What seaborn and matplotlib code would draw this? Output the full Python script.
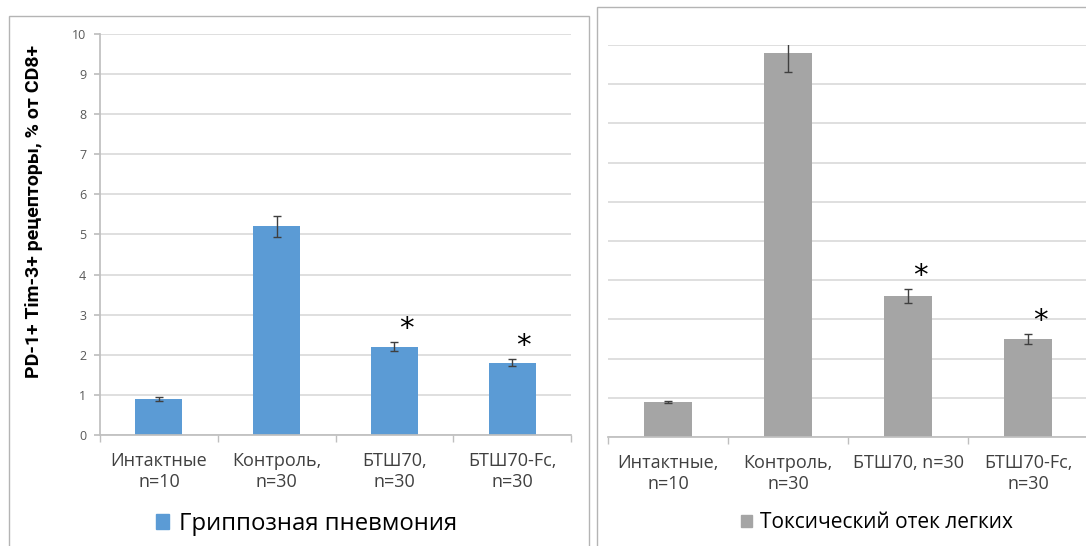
import matplotlib
matplotlib.use("Agg")
import matplotlib.pyplot as plt
from matplotlib.patches import Rectangle, Patch
import seaborn as sns
import pandas as pd

# Groups and measurements (PD-1+ Tim-3+ cells, % of CD8+)
groups_flu = ["Интактные\nn=10", "Контроль,\nn=30", "БТШ70,\nn=30", "БТШ70-Fc,\nn=30"]
values_flu = [0.9, 5.2, 2.2, 1.8]
errors_flu = [0.05, 0.26, 0.11, 0.09]
stars_flu = ["", "", "*", "*"]

groups_tox = ["Интактные,\nn=10", "Контроль,\nn=30", "БТШ70, n=30", "БТШ70-Fc,\nn=30"]
values_tox = [0.9, 9.8, 3.6, 2.5]
errors_tox = [0.03, 0.48, 0.18, 0.14]
stars_tox = ["", "", "*", "*"]

legend_flu = "Гриппозная пневмония"
legend_tox = "Токсический отек легких"
ylabel = "PD-1+ Tim-3+ рецепторы, % от CD8+"
yticks = list(range(0, 11))

BLUE = "#5B9BD5"
GREY = "#A5A5A5"
GRID = "#D9D9D9"
TEXT = "#404040"
SPINE = "#BFBFBF"

sns.set_theme(style="white")
plt.rcParams["font.family"] = ["Open Sans", "DejaVu Sans"]

W, H = 1086, 546
fig = plt.figure(figsize=(W / 100, H / 100), dpi=100)


def px_axes(x0, y0, x1, y1):
    return fig.add_axes([x0 / W, 1 - y1 / H, (x1 - x0) / W, (y1 - y0) / H])


def draw_panel(ax, groups, values, errors, stars, color, show_y):
    df = pd.DataFrame({"group": groups, "value": values})
    sns.barplot(data=df, x="group", y="value", color=color, width=0.4,
                saturation=1, ax=ax, edgecolor="none", errorbar=None)
    ax.errorbar(range(len(values)), values, yerr=errors, fmt="none",
                ecolor="#3F3F3F", elinewidth=1, capsize=3, capthick=1)
    for i, (v, e, s) in enumerate(zip(values, errors, stars)):
        if s:
            ax.text(i + 0.1, v + e + 0.33, s, ha="center", va="center",
                    fontsize=21, color="black", family="DejaVu Sans")
    ax.set_ylim(0, 10)
    ax.set_xlim(-0.5, len(values) - 0.5)
    ax.set_yticks(yticks)
    ax.yaxis.grid(True, color=GRID, lw=1.2)
    ax.set_axisbelow(True)
    ax.set_xlabel("")
    ax.set_ylabel("")
    for side in ["top", "right"]:
        ax.spines[side].set_visible(False)
    ax.spines["bottom"].set_color(SPINE)
    ax.spines["left"].set_color(SPINE)
    ax.spines["left"].set_visible(show_y)
    # category separators on the x axis
    ax.set_xticks([i - 0.5 for i in range(len(values) + 1)], minor=True)
    ax.tick_params(axis="x", which="major", length=0, pad=12,
                   labelsize=13, labelcolor=TEXT)
    for lbl in ax.get_xticklabels():
        lbl.set_linespacing(1.25)
    ax.tick_params(axis="x", which="minor", length=5, color=SPINE,
                   direction="out", bottom=True)
    if show_y:
        ax.tick_params(axis="y", length=4, color=SPINE, direction="out",
                       left=True, labelsize=9, labelcolor="#595959", pad=6)
    else:
        ax.tick_params(axis="y", length=0, labelleft=False)


ax1 = px_axes(100, 34, 571, 435)
draw_panel(ax1, groups_flu, values_flu, errors_flu, stars_flu, BLUE, True)

ax2 = px_axes(608, 45, 1088, 437)
draw_panel(ax2, groups_tox, values_tox, errors_tox, stars_tox, GREY, False)

fig.text(34 / W, 1 - 211 / H, ylabel, rotation=90, ha="center", va="center",
         fontsize=14, fontweight="bold", color="black",
         family=["Roboto", "DejaVu Sans"])

# panel frames
fig.add_artist(Rectangle((9 / W, -0.05), 580 / W, 1.05 - 16 / H,
                         transform=fig.transFigure, fill=False,
                         edgecolor="#B4B4B4", lw=1))
fig.add_artist(Rectangle((597 / W, -0.05), 0.5, 1.05 - 7 / H,
                         transform=fig.transFigure, fill=False,
                         edgecolor="#B4B4B4", lw=1))

fig.legend(handles=[Patch(color=BLUE, label=legend_flu)], loc="center left",
           bbox_to_anchor=(156 / W, 1 - 524 / H), frameon=False, fontsize=17.2,
           handlelength=0.55, handleheight=0.55, handletextpad=0.4,
           labelcolor="black", borderpad=0, borderaxespad=0)
fig.legend(handles=[Patch(color=GREY, label=legend_tox)], loc="center left",
           bbox_to_anchor=(741 / W, 1 - 523 / H), frameon=False, fontsize=15,
           handlelength=0.55, handleheight=0.55, handletextpad=0.35,
           labelcolor="black", borderpad=0, borderaxespad=0)

fig.savefig("out.png", dpi=100)
